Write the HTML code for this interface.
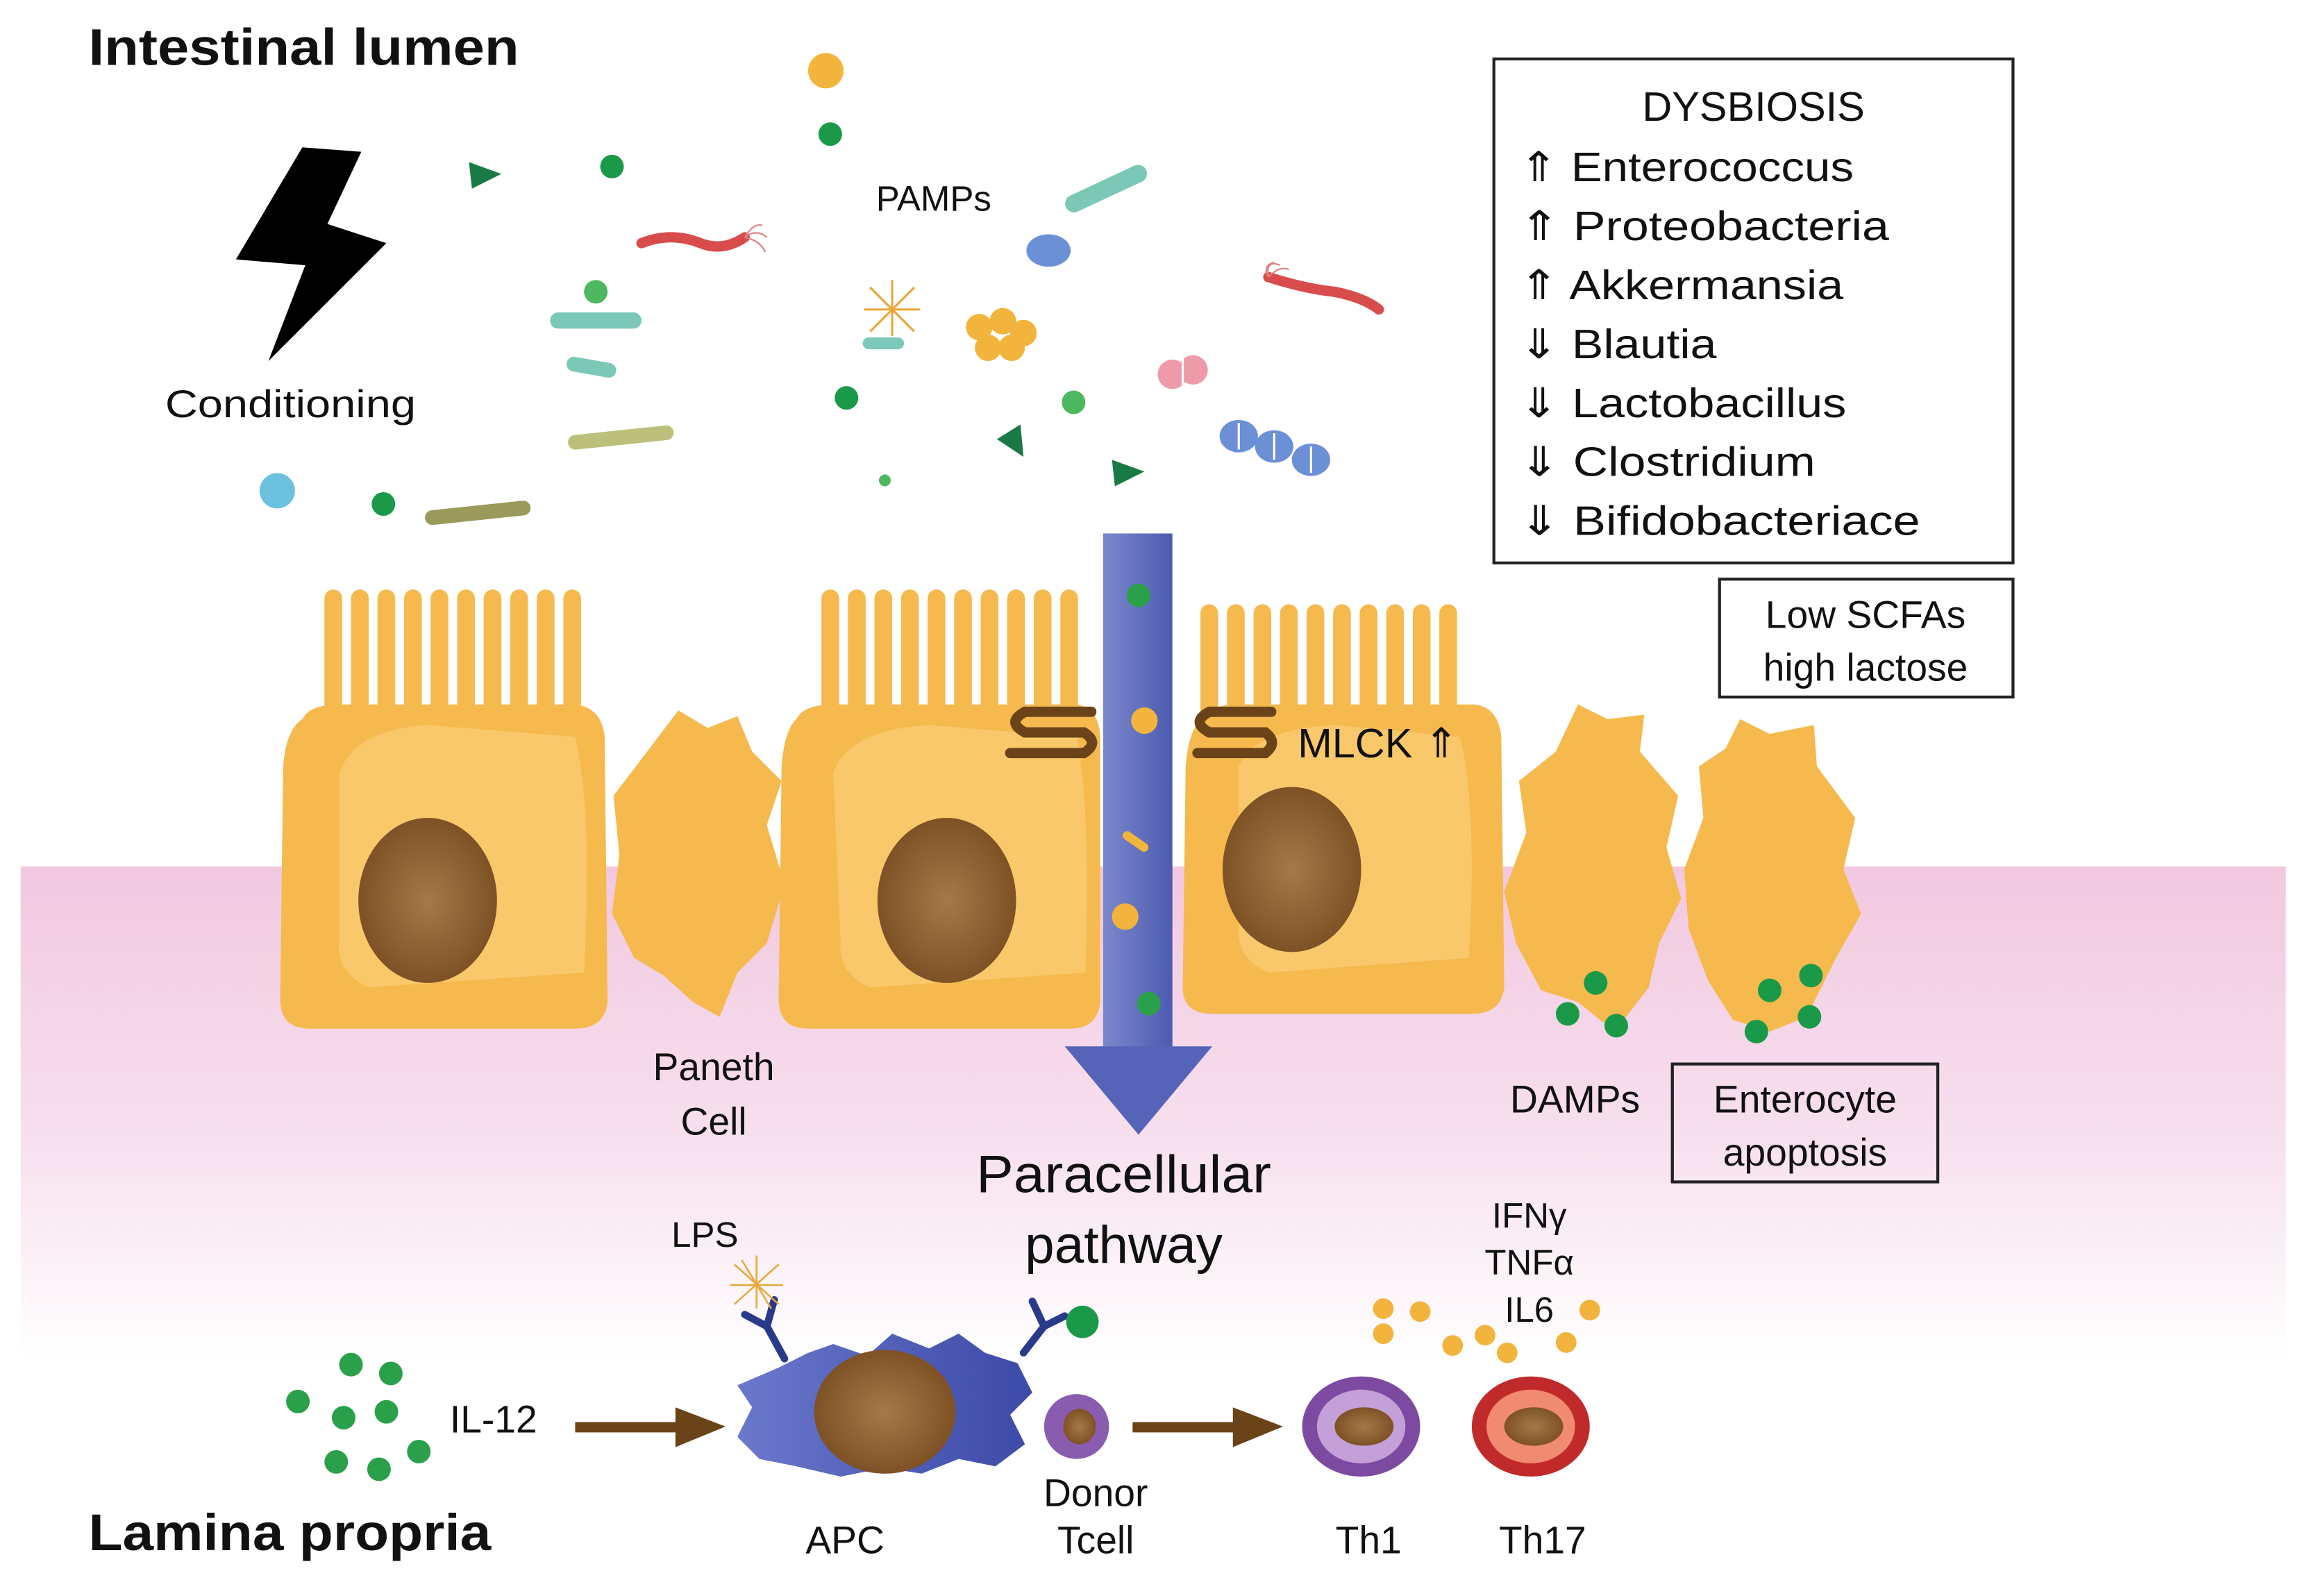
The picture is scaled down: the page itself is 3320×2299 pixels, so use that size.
<!DOCTYPE html>
<html><head><meta charset="utf-8"><style>
html,body{margin:0;padding:0;background:#fff;}
svg{display:block;}
text{font-family:"Liberation Sans","DejaVu Sans",sans-serif;fill:#111;}
</style></head><body>
<svg width="3320" height="2299" viewBox="0 0 1563 1083" preserveAspectRatio="none" xmlns="http://www.w3.org/2000/svg">
<defs>
<linearGradient id="pink" x1="0" y1="0" x2="0" y2="1">
<stop offset="0" stop-color="#f2c8e0"/><stop offset="0.55" stop-color="#f7e0ee"/><stop offset="1" stop-color="#ffffff"/>
</linearGradient>
<linearGradient id="blue" x1="0" y1="0" x2="1" y2="0">
<stop offset="0" stop-color="#7b88cc"/><stop offset="1" stop-color="#4d5bb0"/>
</linearGradient>
<radialGradient id="nuc" cx="0.5" cy="0.5" r="0.55">
<stop offset="0" stop-color="#a57a48"/><stop offset="1" stop-color="#7a4e22"/>
</radialGradient>
<linearGradient id="apc" x1="0" y1="0" x2="1" y2="0">
<stop offset="0" stop-color="#6a78cc"/><stop offset="1" stop-color="#3c4aa8"/>
</linearGradient>
</defs>
<rect x="14" y="588" width="1536" height="335" fill="url(#pink)"/>

<text x="60" y="44" font-size="35" font-weight="bold" textLength="292" lengthAdjust="spacingAndGlyphs">Intestinal lumen</text>
<text x="60" y="1052" font-size="35" font-weight="bold" textLength="273" lengthAdjust="spacingAndGlyphs">Lamina propria</text>
<polygon points="205,100 245,103 222,152 262,165 182,245 207,180 160,176" fill="#000"/>
<text x="112" y="283" font-size="26" textLength="170" lengthAdjust="spacingAndGlyphs">Conditioning</text>
<text x="594" y="143" font-size="24">PAMPs</text>

<g>
<circle cx="560" cy="48" r="12" fill="#f2b43c"/>
<circle cx="563" cy="91" r="8" fill="#1a9a48"/>
<circle cx="415" cy="113" r="8" fill="#1a9a48"/>
<circle cx="404" cy="198" r="8" fill="#4cb860"/>
<circle cx="574" cy="270" r="8" fill="#1a9a48"/>
<circle cx="728" cy="273" r="8" fill="#4cb860"/>
<circle cx="600" cy="326" r="4" fill="#4cb860"/>
<circle cx="260" cy="342" r="8" fill="#1a9a48"/>
<circle cx="188" cy="333" r="12" fill="#6cc0e0"/>
<polygon points="318,110 340,118 320,128" fill="#1a7a45"/>
<polygon points="676,298 692,288 694,310" fill="#1a7a45"/>
<polygon points="754,312 776,320 756,330" fill="#1a7a45"/>
<rect x="373" y="212" width="62" height="11" rx="5.5" fill="#7cc8b8"/>
<rect x="384" y="244" width="34" height="10" rx="5" fill="#7cc8b8" transform="rotate(10 400 249)"/>
<rect x="585" y="229" width="28" height="8" rx="4" fill="#7cc8b8"/>
<rect x="720" y="122" width="60" height="12" rx="6" fill="#7cc8b8" transform="rotate(-25 750 128)"/>
<rect x="385" y="292" width="72" height="10" rx="5" fill="#bcc07a" transform="rotate(-6 420 297)"/>
<rect x="288" y="343" width="72" height="10" rx="5" fill="#9a9a5a" transform="rotate(-6 324 348)"/>
<path d="M435,165 q20,-8 40,0 q15,6 30,-4" stroke="#d84c4c" stroke-width="7" fill="none" stroke-linecap="round"/>
<path d="M505,161 q8,-6 15,0 M505,161 q10,2 14,10 M505,161 q6,-10 12,-8" stroke="#e08080" stroke-width="1" fill="none"/>
<path d="M860,188 q25,8 45,10 q20,4 30,12" stroke="#d84c4c" stroke-width="7" fill="none" stroke-linecap="round"/>
<path d="M860,188 q-4,-8 4,-10 M860,188 q8,-8 14,-5 M860,188 q-2,-12 8,-8" stroke="#e08080" stroke-width="1" fill="none"/>
<ellipse cx="711" cy="170" rx="15" ry="11" fill="#6b90d6"/>
<circle cx="795" cy="254" r="10" fill="#ee9aa8"/><circle cx="809" cy="251" r="10" fill="#ee9aa8"/>
<line x1="802" y1="243" x2="802" y2="262" stroke="#fff" stroke-width="1.5"/>
<ellipse cx="840" cy="296" rx="13" ry="11" fill="#6b90d6"/><ellipse cx="864" cy="303" rx="13" ry="11" fill="#6b90d6"/><ellipse cx="889" cy="312" rx="13" ry="11" fill="#6b90d6"/>
<g stroke="#fff" stroke-width="1.5"><line x1="840" y1="287" x2="840" y2="305"/><line x1="864" y1="294" x2="864" y2="312"/><line x1="889" y1="303" x2="889" y2="321"/></g>
<g fill="#f2b43c"><circle cx="664" cy="222" r="9"/><circle cx="680" cy="218" r="9"/><circle cx="694" cy="226" r="9"/><circle cx="670" cy="236" r="9"/><circle cx="686" cy="236" r="9"/></g>
<g stroke="#e8a83a" stroke-width="1.5"><line x1="590" y1="195" x2="620" y2="225"/><line x1="620" y1="195" x2="590" y2="225"/><line x1="605" y1="190" x2="605" y2="228"/><line x1="586" y1="210" x2="624" y2="210"/></g>
</g>

<rect x="1013" y="40" width="352" height="342" fill="#fff" stroke="#222" stroke-width="2"/>
<text x="1189" y="82" font-size="28" text-anchor="middle">DYSBIOSIS</text>
<g font-size="28">
<text x="1030" y="123" textLength="227" lengthAdjust="spacingAndGlyphs">⇑ Enterococcus</text>
<text x="1030" y="163" textLength="251" lengthAdjust="spacingAndGlyphs">⇑ Proteobacteria</text>
<text x="1030" y="203" textLength="220" lengthAdjust="spacingAndGlyphs">⇑ Akkermansia</text>
<text x="1030" y="243" textLength="134" lengthAdjust="spacingAndGlyphs">⇓ Blautia</text>
<text x="1030" y="283" textLength="222" lengthAdjust="spacingAndGlyphs">⇓ Lactobacillus</text>
<text x="1030" y="323" textLength="201" lengthAdjust="spacingAndGlyphs">⇓ Clostridium</text>
<text x="1030" y="363" textLength="272" lengthAdjust="spacingAndGlyphs">⇓ Bifidobacteriace</text>
</g>
<rect x="1166" y="393" width="199" height="80" fill="#fff" stroke="#222" stroke-width="2"/>
<text x="1265" y="426" font-size="26" text-anchor="middle">Low SCFAs</text>
<text x="1265" y="462" font-size="26" text-anchor="middle">high lactose</text>

<g fill="#f5b94e">
<rect x="220" y="400" width="12" height="100" rx="6"/><rect x="238" y="400" width="12" height="100" rx="6"/><rect x="256" y="400" width="12" height="100" rx="6"/><rect x="274" y="400" width="12" height="100" rx="6"/><rect x="292" y="400" width="12" height="100" rx="6"/><rect x="310" y="400" width="12" height="100" rx="6"/><rect x="328" y="400" width="12" height="100" rx="6"/><rect x="346" y="400" width="12" height="100" rx="6"/><rect x="364" y="400" width="12" height="100" rx="6"/><rect x="382" y="400" width="12" height="100" rx="6"/>
<rect x="557" y="400" width="12" height="100" rx="6"/><rect x="575" y="400" width="12" height="100" rx="6"/><rect x="593" y="400" width="12" height="100" rx="6"/><rect x="611" y="400" width="12" height="100" rx="6"/><rect x="629" y="400" width="12" height="100" rx="6"/><rect x="647" y="400" width="12" height="100" rx="6"/><rect x="665" y="400" width="12" height="100" rx="6"/><rect x="683" y="400" width="12" height="100" rx="6"/><rect x="701" y="400" width="12" height="100" rx="6"/><rect x="719" y="400" width="12" height="100" rx="6"/>
<rect x="814" y="410" width="12" height="90" rx="6"/><rect x="832" y="410" width="12" height="90" rx="6"/><rect x="850" y="410" width="12" height="90" rx="6"/><rect x="868" y="410" width="12" height="90" rx="6"/><rect x="886" y="410" width="12" height="90" rx="6"/><rect x="904" y="410" width="12" height="90" rx="6"/><rect x="922" y="410" width="12" height="90" rx="6"/><rect x="940" y="410" width="12" height="90" rx="6"/><rect x="958" y="410" width="12" height="90" rx="6"/><rect x="976" y="410" width="12" height="90" rx="6"/>
<path d="M205,488 Q210,478 230,478 L390,478 Q408,480 410,500 L412,680 Q410,698 390,698 L210,698 Q190,698 190,678 L192,520 Q194,495 205,488 Z"/>
<path d="M540,488 Q545,478 565,478 L730,478 Q745,480 746,500 L746,680 Q744,698 726,698 L548,698 Q528,698 528,678 L530,520 Q532,495 540,488 Z"/>
<path d="M815,488 Q820,478 840,478 L1000,478 Q1016,480 1018,500 L1020,670 Q1018,688 998,688 L822,688 Q802,688 802,670 L804,520 Q806,495 815,488 Z"/>
<path d="M460,482 L480,494 L500,486 L510,510 L530,530 L520,560 L532,600 L520,640 L500,660 L488,690 L470,680 L450,662 L430,650 L415,620 L420,580 L416,540 L435,515 Z"/>
<path d="M1070,478 L1090,488 L1115,485 L1112,510 L1138,540 L1130,575 L1140,610 L1125,640 L1118,670 L1095,700 L1070,680 L1045,672 L1028,640 L1020,605 L1035,565 L1030,530 L1055,510 Z"/>
<path d="M1180,488 L1200,498 L1230,492 L1232,520 L1258,555 L1250,590 L1262,620 L1245,650 L1225,690 L1200,700 L1175,692 L1158,665 L1145,630 L1142,590 L1155,555 L1152,520 L1170,508 Z"/>
</g>
<g fill="#fbcf78" opacity="0.7">
<path d="M230,525 Q240,495 290,492 L390,500 Q402,550 396,660 L250,670 Q228,660 230,640 Z"/>
<path d="M565,525 Q575,495 630,492 L730,500 Q740,550 736,660 L590,670 Q568,660 570,640 Z"/>
<path d="M840,520 Q850,495 905,492 L990,500 Q1002,550 996,650 L860,660 Q838,650 840,630 Z"/>
</g>
<ellipse cx="290" cy="611" rx="47" ry="56" fill="url(#nuc)"/>
<ellipse cx="642" cy="611" rx="47" ry="56" fill="url(#nuc)"/>
<ellipse cx="876" cy="590" rx="47" ry="56" fill="url(#nuc)"/>

<rect x="748" y="362" width="47" height="350" fill="url(#blue)"/>
<polygon points="722,710 822,710 772,770" fill="#5563b8"/>
<circle cx="772" cy="404" r="8" fill="#2aa04a"/>
<circle cx="776" cy="489" r="9" fill="#f2b43c"/>
<circle cx="763" cy="622" r="9" fill="#f2b43c"/>
<circle cx="779" cy="681" r="8" fill="#2aa04a"/>
<rect x="760" y="568" width="20" height="6" rx="3" fill="#f2b43c" transform="rotate(35 770 571)"/>
<g fill="none" stroke="#6b4318" stroke-width="7" stroke-linecap="round">
<path d="M740,483 L695,483 Q682,490 695,497 L735,497 Q746,504 735,511 L685,511"/>
<path d="M862,483 L820,483 Q807,490 820,497 L858,497 Q867,504 858,511 L812,511"/>
</g>
<text x="880" y="514" font-size="28">MLCK ⇑</text>

<g fill="#1a9a48">
<circle cx="1082" cy="667" r="8"/><circle cx="1063" cy="688" r="8"/><circle cx="1096" cy="696" r="8"/>
<circle cx="1228" cy="662" r="8"/><circle cx="1200" cy="672" r="8"/><circle cx="1227" cy="690" r="8"/><circle cx="1191" cy="700" r="8"/>
</g>

<text x="484" y="733" font-size="26" text-anchor="middle">Paneth</text>
<text x="484" y="770" font-size="26" text-anchor="middle">Cell</text>
<text x="1068" y="755" font-size="26" text-anchor="middle">DAMPs</text>
<rect x="1134" y="722" width="180" height="80" fill="none" stroke="#222" stroke-width="2"/>
<text x="1224" y="755" font-size="26" text-anchor="middle">Enterocyte</text>
<text x="1224" y="791" font-size="26" text-anchor="middle">apoptosis</text>
<text x="762" y="809" font-size="36" text-anchor="middle" textLength="200" lengthAdjust="spacingAndGlyphs">Paracellular</text>
<text x="762" y="857" font-size="36" text-anchor="middle">pathway</text>
<text x="478" y="846" font-size="24" text-anchor="middle">LPS</text>
<text x="1037" y="833" font-size="24" text-anchor="middle">IFNγ</text>
<text x="1037" y="865" font-size="24" text-anchor="middle">TNFα</text>
<text x="1037" y="897" font-size="24" text-anchor="middle">IL6</text>

<g fill="#2aa04a">
<circle cx="238" cy="926" r="8"/><circle cx="265" cy="932" r="8"/><circle cx="202" cy="951" r="8"/><circle cx="233" cy="962" r="8"/><circle cx="262" cy="958" r="8"/><circle cx="228" cy="992" r="8"/><circle cx="257" cy="997" r="8"/><circle cx="284" cy="985" r="8"/>
</g>
<text x="305" y="972" font-size="26">IL-12</text>
<g fill="#6b4318">
<rect x="390" y="965" width="70" height="7"/><polygon points="458,955 492,968 458,982"/>
<rect x="768" y="965" width="70" height="7"/><polygon points="836,955 870,968 836,982"/>
</g>
<path d="M528,928 L548,918 L565,912 L588,920 L605,905 L630,915 L650,905 L668,918 L690,925 L700,945 L685,960 L695,980 L675,995 L650,990 L625,1000 L600,996 L570,1002 L540,995 L515,990 L500,975 L510,955 L500,940 Z" fill="url(#apc)"/>
<g stroke="#2a3a8a" stroke-width="5" fill="none" stroke-linecap="round">
<path d="M532,922 L520,900 M520,900 L505,892 M520,900 L525,882"/>
<path d="M694,918 L708,900 M708,900 L700,883 M708,900 L722,893"/>
</g>
<g stroke="#e8a83a" stroke-width="1.2"><line x1="498" y1="858" x2="528" y2="885"/><line x1="528" y1="858" x2="498" y2="885"/><line x1="513" y1="852" x2="513" y2="888"/><line x1="495" y1="872" x2="531" y2="872"/><line x1="503" y1="855" x2="523" y2="888"/></g>
<ellipse cx="600" cy="958" rx="48" ry="42" fill="url(#nuc)"/>
<circle cx="734" cy="897" r="11" fill="#1a9a48"/>
<ellipse cx="730" cy="968" rx="22" ry="22" fill="#8a5cb0"/><ellipse cx="732" cy="968" rx="11" ry="12" fill="url(#nuc)"/>
<ellipse cx="923" cy="968" rx="40" ry="34" fill="#7c4aa0"/><ellipse cx="923" cy="968" rx="30" ry="25" fill="#c4a0d8"/><ellipse cx="925" cy="968" rx="20" ry="13" fill="url(#nuc)"/>
<ellipse cx="1038" cy="968" rx="40" ry="34" fill="#c02a2a"/><ellipse cx="1038" cy="968" rx="30" ry="25" fill="#f08a70"/><ellipse cx="1040" cy="968" rx="20" ry="13" fill="url(#nuc)"/>
<g fill="#f2b43c">
<circle cx="938" cy="888" r="7"/><circle cx="963" cy="890" r="7"/><circle cx="938" cy="905" r="7"/><circle cx="985" cy="913" r="7"/><circle cx="1007" cy="906" r="7"/><circle cx="1022" cy="918" r="7"/><circle cx="1062" cy="911" r="7"/><circle cx="1078" cy="889" r="7"/>
</g>
<text x="573" y="1054" font-size="26" text-anchor="middle">APC</text>
<text x="743" y="1022" font-size="26" text-anchor="middle">Donor</text>
<text x="743" y="1054" font-size="26" text-anchor="middle">Tcell</text>
<text x="928" y="1054" font-size="26" text-anchor="middle">Th1</text>
<text x="1046" y="1054" font-size="26" text-anchor="middle">Th17</text>
</svg>
</body></html>
